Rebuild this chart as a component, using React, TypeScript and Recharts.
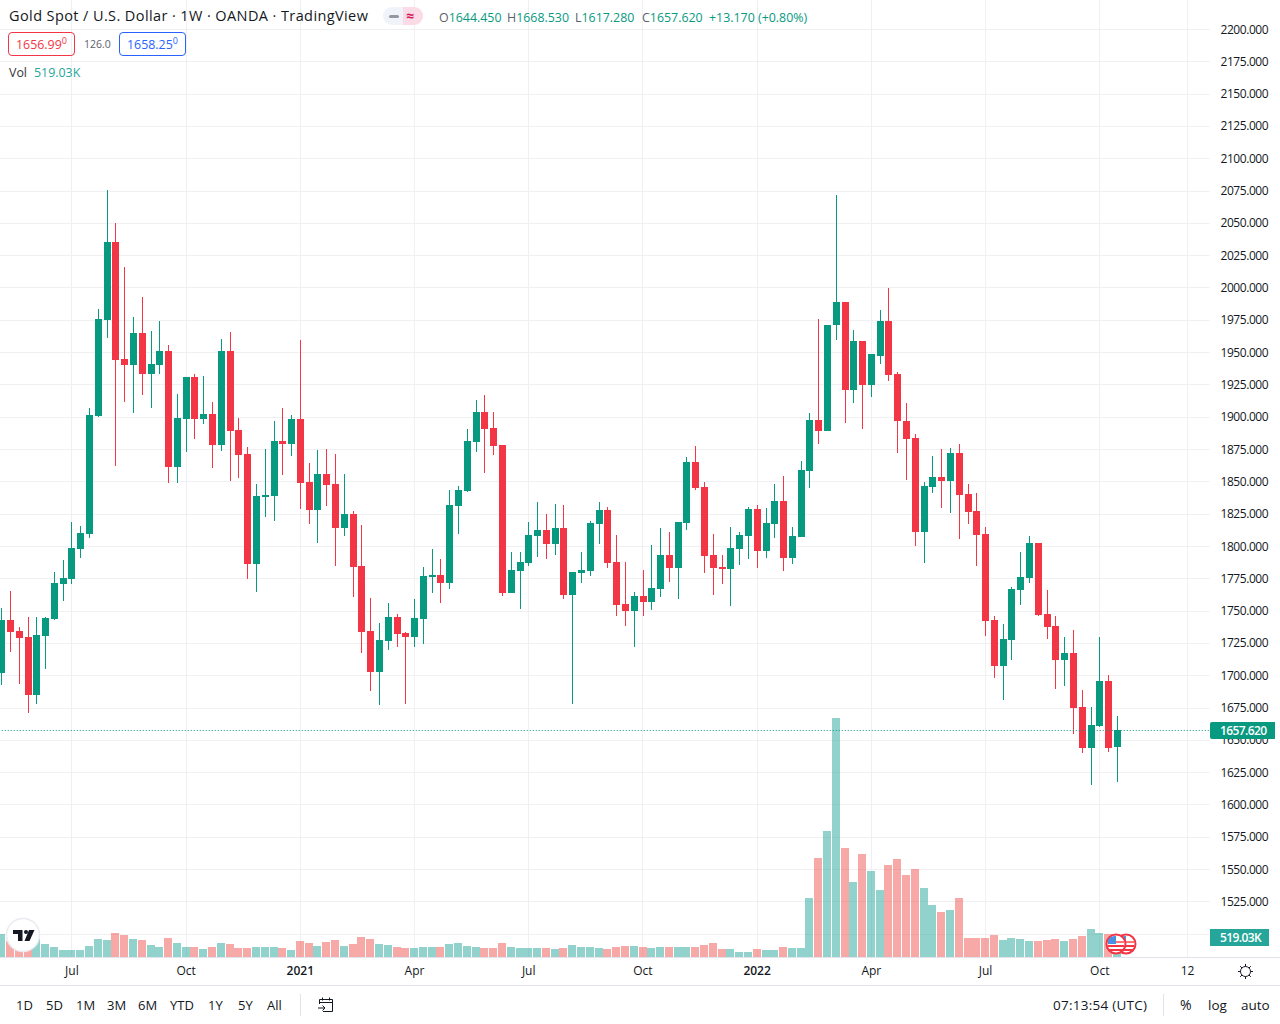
import React from 'react'
import { ComposedChart, Bar, XAxis, YAxis, CartesianGrid, ReferenceLine } from 'recharts'

const weeks = [
  '2020-05-11','2020-05-18','2020-05-25','2020-06-01','2020-06-08','2020-06-15','2020-06-22','2020-06-29','2020-07-06','2020-07-13',
  '2020-07-20','2020-07-27','2020-08-03','2020-08-10','2020-08-17','2020-08-24','2020-08-31','2020-09-07','2020-09-14','2020-09-21',
  '2020-09-28','2020-10-05','2020-10-12','2020-10-19','2020-10-26','2020-11-02','2020-11-09','2020-11-16','2020-11-23','2020-11-30',
  '2020-12-07','2020-12-14','2020-12-21','2020-12-28','2021-01-04','2021-01-11','2021-01-18','2021-01-25','2021-02-01','2021-02-08',
  '2021-02-15','2021-02-22','2021-03-01','2021-03-08','2021-03-15','2021-03-22','2021-03-29','2021-04-05','2021-04-12','2021-04-19',
  '2021-04-26','2021-05-03','2021-05-10','2021-05-17','2021-05-24','2021-05-31','2021-06-07','2021-06-14','2021-06-21','2021-06-28',
  '2021-07-05','2021-07-12','2021-07-19','2021-07-26','2021-08-02','2021-08-09','2021-08-16','2021-08-23','2021-08-30','2021-09-06',
  '2021-09-13','2021-09-20','2021-09-27','2021-10-04','2021-10-11','2021-10-18','2021-10-25','2021-11-01','2021-11-08','2021-11-15',
  '2021-11-22','2021-11-29','2021-12-06','2021-12-13','2021-12-20','2021-12-27','2022-01-03','2022-01-10','2022-01-17','2022-01-24',
  '2022-01-31','2022-02-07','2022-02-14','2022-02-21','2022-02-28','2022-03-07','2022-03-14','2022-03-21','2022-03-28','2022-04-04',
  '2022-04-11','2022-04-18','2022-04-25','2022-05-02','2022-05-09','2022-05-16','2022-05-23','2022-05-30','2022-06-06','2022-06-13',
  '2022-06-20','2022-06-27','2022-07-04','2022-07-11','2022-07-18','2022-07-25','2022-08-01','2022-08-08','2022-08-15','2022-08-22',
  '2022-08-29','2022-09-05','2022-09-12','2022-09-19','2022-09-26','2022-10-03','2022-10-10','2022-10-17','2022-10-24','2022-10-31',
  '2022-11-07','2022-11-14','2022-11-21','2022-11-28','2022-12-05','2022-12-12','2022-12-19','2022-12-26',
]

const opens = [
  1701.9,1742.7,1734,1729.4,1684.6,1730.2,1743.3,1770.5,1774.3,1797.7,1809.4,1900.7,1975.2,2035.6,1945,1940.4,
  1965.2,1933.3,1940.4,1951,1861.3,1898.5,1930.9,1898.5,1902.3,1878.4,1951,1889.8,1871.3,1786,1837.9,1838.7,
  1881.4,1879,1898.5,1849.4,1827.7,1855.6,1847.9,1813.8,1824.7,1784.4,1734,1702.3,1726.3,1744.9,1732.5,1729.4,
  1743.4,1775.9,1777.4,1771.2,1830.8,1842.4,1880.4,1903.6,1891.2,1878,1763.5,1780.5,1786.7,1807.6,1812.3,1801.4,
  1813.8,1761.9,1779,1780.5,1816.9,1827.7,1787.5,1755,1749.6,1761.2,1756.5,1766.6,1792.9,1782.8,1817.7,1864.9,
  1845.5,1792.9,1783.6,1782,1797.6,1807.6,1828.5,1796,1816.9,1834.7,1790.6,1806.8,1857.9,1897.6,1889.3,1970.9,
  1989.3,1920.5,1958.4,1924.9,1947.5,1973.9,1932.9,1897.1,1884,1811,1846,1853.7,1850.8,1872.4,1840.7,1827.4,
  1809.6,1742.8,1707.2,1727.4,1766.2,1775.4,1802.4,1747.6,1738.4,1712,1717.3,1675.5,1643.8,1660.7,1695.7,1644.45,
]
const highs = [
  1752,1765,1737.8,1744.9,1744.9,1744.9,1779.7,1789.2,1818.6,1815.6,1907,1983.6,2075.8,2050.3,2016.3,1977.4,
  1992.9,1966.8,1974.4,1955.9,1917.8,1930.9,1933.3,1931.7,1911.6,1960.5,1966,1899.1,1876.8,1848,1875.2,1896.9,
  1907,1901.5,1959.7,1864.1,1874.7,1875.5,1871.6,1855.6,1827,1816.1,1759.6,1740.3,1755.8,1747.2,1733.3,1758.9,
  1783.6,1797.6,1789.8,1843.2,1846.3,1890.4,1912.9,1916.7,1903.6,1878,1795.2,1795.2,1818.4,1833.9,1824.6,1832.4,
  1831.6,1779.8,1795.2,1819.2,1833.9,1830,1808.4,1787.5,1764.3,1781.3,1800.6,1813.8,1810.7,1818.4,1868.8,1877.3,
  1849.4,1809.2,1792.9,1814.6,1810.7,1830,1831.6,1829.3,1847.9,1854,1814.6,1865.7,1902.8,1975.4,1971.5,2071.5,
  1989.3,1967.1,1959,1948.7,1982.5,1999.4,1935,1910.4,1886.4,1849.9,1870.1,1874.8,1876.3,1879.3,1848.4,1841.3,
  1814.9,1746.1,1739.9,1768.6,1795.6,1808.1,1802.4,1766.2,1746.1,1729.8,1735.1,1688.5,1675.5,1729.8,1700.4,1668.53,
]
const lows = [
  1692.2,1717.7,1693.8,1670.4,1677.5,1704.7,1742.7,1757.4,1770.5,1790.6,1806.4,1899.9,1961.3,1862.6,1911.6,1903.2,
  1917,1907,1933.3,1848.8,1848.8,1873,1883,1894.5,1860.5,1873.5,1850.4,1852.6,1774.3,1764.2,1822.4,1819.4,
  1855,1869.7,1828.7,1816.9,1803,1831.6,1785.2,1807.7,1760.4,1717,1687.6,1676.8,1719.4,1721.7,1677.6,1721.7,
  1724,1763.5,1755.8,1766.6,1809.2,1841.7,1872.6,1856.4,1870.3,1761.2,1763.5,1751.1,1784.4,1791.4,1789.8,1792.9,
  1758.9,1677.6,1771.2,1776.6,1801.4,1782.8,1745.7,1738,1721.7,1745.7,1750.3,1760.4,1772,1758.9,1812.3,1843.2,
  1779,1761.9,1770.5,1753.4,1785.2,1789.8,1782.8,1790.6,1806,1780.5,1785.9,1806.8,1845,1878.4,1889.3,1959,
  1895.6,1911,1890.8,1915.7,1940.7,1927.3,1872.4,1850.8,1799.5,1787,1841.3,1828.8,1825.9,1805.7,1817.3,1784.6,
  1730.4,1698,1680.8,1712,1754.4,1771.6,1745.8,1728.3,1689.4,1691.8,1654.4,1639.9,1615,1659.8,1640.5,1617.28,
]
const closes = [
  1742.7,1733.5,1728.9,1684.6,1731,1744.1,1771.3,1775.1,1798.5,1810.2,1901.5,1976,2035.6,1944.2,1940.4,1965.2,
  1933.3,1941,1951,1861.3,1899.1,1930.9,1898.5,1902.3,1878.4,1951,1889,1870.5,1786,1838.7,1839.5,1881.4,
  1879,1898.5,1848.8,1827.7,1855.6,1847.1,1813.8,1824.7,1783.6,1733.3,1702.3,1727.1,1744.9,1731.8,1729.4,1744.2,
  1776.6,1777.4,1771.2,1831.6,1843.2,1881.2,1903.6,1890.4,1877.3,1763.5,1781.3,1787.5,1808.4,1812.3,1801.4,1813.8,
  1761.9,1779.8,1781.3,1817.7,1827.7,1786.7,1754.2,1749.6,1761.2,1756.5,1767.4,1792.9,1782.8,1818.4,1864.9,1844.8,
  1792.1,1782.8,1782,1798.3,1808.4,1828.5,1796,1817.7,1834.7,1790.6,1807.6,1858.7,1897.4,1889,1971.5,1989.3,
  1920.5,1958.4,1924.9,1948.4,1973.9,1932.1,1896.5,1883.1,1811,1846.6,1853.7,1850.8,1872.4,1839.8,1826.8,1808.7,
  1742.2,1707.2,1728.3,1766.8,1776.3,1802.4,1746.7,1737.5,1712,1717.3,1674.6,1643.8,1661.6,1695.7,1643.8,1657.62,
]
// thousands
const volumes = [
  598,416,364,312,468,338,260,182,182,182,286,468,442,624,572,468,442,312,260,494,364,260,260,208,260,364,338,234,234,260,260,260,
  234,182,416,364,286,390,442,286,338,520,468,338,312,260,234,234,260,260,260,338,364,286,260,234,234,364,260,234,234,234,234,208,
  234,312,260,260,234,208,260,286,286,260,234,260,260,260,260,260,312,364,208,208,130,130,208,182,182,260,234,234,1534,2574,3276,6214,
  2834,1950,2678,2236,1742,2392,2548,2132,2288,1794,1352,1170,1222,1534,494,494,494,572,442,494,468,416,416,442,468,416,468,546,728,624,598,519.03,
]

const priceTicks = [
  1500,1525,1550,1575,1600,1625,1650,1675,1700,1725,1750,1775,1800,1825,1850,1875,1900,1925,1950,1975,
  2000,2025,2050,2075,2100,2125,2150,2175,2200,
]
const dateTicks = ['2020-07-06','2020-10-05','2021-01-04','2021-04-05','2021-07-05','2021-10-04','2022-01-03','2022-04-04','2022-07-04','2022-10-03','2022-12-12']
const dateTickLabels = ['Jul','Oct','2021','Apr','Jul','Oct','2022','Apr','Jul','Oct','12']
const rangeButtons = [['1D',16],['5D',46],['1M',76],['3M',107],['6M',138],['YTD',170],['1Y',208],['5Y',238],['All',267]] as const

const UP = '#089981'
const DOWN = '#f23645'
const GRID = '#f0f0f2'
const FONT = '"Open Sans", "Noto Sans", sans-serif'

const rows = weeks.map((date, i) => ({
  date,
  open: opens[i] ?? null,
  high: highs[i] ?? null,
  low: lows[i] ?? null,
  close: closes[i] ?? null,
  volume: volumes[i] ?? null,
}))

function Candle(props: any) {
  const { x, y, width, height, payload } = props
  if (!payload || payload.high == null || !Number.isFinite(y)) return null
  const { open, high, low, close } = payload
  const up = close >= open
  const unit = height / (high - low)
  const cx = Math.floor(x + width / 2)
  const top = Math.round(y - 0.3 + (high - Math.max(open, close)) * unit)
  const bottom = Math.round(y - 0.3 + (high - Math.min(open, close)) * unit)
  const color = up ? UP : DOWN
  return (
    <g>
      <rect x={cx} y={Math.round(y - 0.3)} width={1} height={Math.max(1, Math.round(height))} fill={color} />
      <rect x={cx - 3} y={top} width={7} height={Math.max(2, bottom - top)} fill={color} />
    </g>
  )
}

function VolumeBar(props: any) {
  const { x, y, width, height, payload } = props
  if (!payload || payload.volume == null || !Number.isFinite(y)) return null
  const up = payload.close >= payload.open
  const left = Math.round(x)
  const right = Math.round(x + width)
  return (
    <rect
      x={left}
      y={Math.round(y)}
      width={right - left}
      height={Math.round(height)}
      fill={up ? '#26a69a' : '#ef5350'}
      fillOpacity={0.5}
    />
  )
}

function DateTick(props: any) {
  const { x, y, payload } = props
  const label = dateTickLabels[dateTicks.indexOf(payload.value)]
  const bold = label.startsWith('20')
  return (
    <text x={x} y={y + 5.5} textAnchor="middle" dominantBaseline="central" fontSize={12} fontFamily={FONT} fontWeight={bold ? 600 : 400} fill="#131722">
      {label}
    </text>
  )
}

function PriceTick(props: any) {
  const { x, y, payload } = props
  // the volume label covers this level, only its grid line shows
  if (payload.value === 1500) return null
  return (
    <text x={x} y={Math.round(y - 0.95) + 5} textAnchor="start" fontSize={12} letterSpacing={-0.45} fontFamily={FONT} fill="#131722">
      {payload.value.toFixed(3)}
    </text>
  )
}

// grid lines snapped to whole pixels
const gridH = (p: any) => {
  const y = Math.floor(p.y1) + 0.5
  return <line key={p.key} x1={p.x1} x2={p.x2} y1={y} y2={y} stroke={GRID} />
}
const gridV = (p: any) => {
  const x = Math.floor(p.x1) + 0.5
  return <line key={p.key} x1={x} x2={x} y1={p.y1} y2={p.y2} stroke={GRID} />
}

const txt = (left: number, top: number, extra: React.CSSProperties = {}): React.CSSProperties => ({
  position: 'absolute', left, top, whiteSpace: 'nowrap', fontFamily: FONT, color: '#131722', lineHeight: '18px', ...extra,
})
const hline = (top: number): React.CSSProperties => ({ position: 'absolute', left: 0, top, width: 1280, height: 1, background: '#e0e3eb' })

function Flag({ left }: { left: number }) {
  return (
    <svg style={{ position: 'absolute', left, top: 933 }} width={22} height={22} viewBox="0 0 22 22">
      <circle cx={11} cy={11} r={9.5} fill="#fff" stroke="#f23645" strokeWidth={2} />
      <rect x={3} y={8} width={16} height={2} fill="#f77" />
      <rect x={3} y={12} width={16} height={2} fill="#f23645" />
      <rect x={4} y={16} width={14} height={2} fill="#f23645" />
      <path d="M3 10 V7 A8.5 8.5 0 0 1 11 3 V11 H3 Z" fill="#4a90e2" />
    </svg>
  )
}

export default function App() {
  return (
    <div style={{ position: 'absolute', left: 0, top: 0, width: 1280, height: 1024, overflow: 'hidden', background: '#fff' }}>
      <div style={{ position: 'absolute', left: -30, top: 0 }}>
        <ComposedChart width={1310} height={985} data={rows} margin={{ top: 0, right: 0, left: 27.21, bottom: 0 }}>
          <CartesianGrid xAxisId="price" yAxisId="price" syncWithTicks horizontal={gridH} vertical={gridV} />
          <XAxis xAxisId="vol" dataKey="date" scale="band" hide />
          <XAxis
            xAxisId="price"
            dataKey="date"
            scale="band"
            ticks={dateTicks}
            interval={0}
            height={28}
            axisLine={false}
            tickLine={false}
            tick={<DateTick />}
          />
          <YAxis yAxisId="vol" orientation="left" hide domain={[0, 24882]} allowDataOverflow />
          <YAxis
            yAxisId="price"
            orientation="right"
            width={70.46}
            domain={[1482.35, 2222.82]}
            allowDataOverflow
            ticks={priceTicks}
            interval={0}
            axisLine={false}
            tickLine={false}
            tickSize={0}
            tickMargin={11}
            tick={<PriceTick />}
          />
          <Bar xAxisId="vol" yAxisId="vol" dataKey="volume" barSize={8} shape={<VolumeBar />} isAnimationActive={false} />
          <Bar
            xAxisId="price"
            yAxisId="price"
            dataKey={(d: any) => (d.high == null ? null : [d.low, d.high])}
            barSize={7}
            shape={<Candle />}
            isAnimationActive={false}
          />
          <ReferenceLine xAxisId="price" yAxisId="price" y={1657.62} stroke={UP} strokeDasharray="1 2" strokeDashoffset={2.21} />
        </ComposedChart>
      </div>

      <div style={hline(957)} />
      <div style={hline(985)} />

      {/* header */}
      <div style={txt(9, 7, { fontSize: 14.5, letterSpacing: 0.4 })}>Gold Spot / U.S. Dollar · 1W · OANDA · TradingView</div>
      <div style={{ position: 'absolute', left: 383, top: 7, width: 40, height: 18, borderRadius: 9, background: '#f0f3fa', overflow: 'hidden' }}>
        <div style={{ position: 'absolute', left: 20, top: 0, width: 20, height: 18, background: '#fbdbe6' }} />
        <div style={{ position: 'absolute', left: 6, top: 8, width: 10, height: 3, borderRadius: 2, background: '#9598a1' }} />
        <div style={txt(23, 0, { fontSize: 14, color: '#d81b60', fontWeight: 700 })}>≈</div>
      </div>
      <div style={txt(439, 9, { fontSize: 12.4, color: UP })}><span style={{ color: '#5d606b' }}>O</span>1644.450</div>
      <div style={txt(507, 9, { fontSize: 12.4, color: UP })}><span style={{ color: '#5d606b' }}>H</span>1668.530</div>
      <div style={txt(575, 9, { fontSize: 12.4, color: UP })}><span style={{ color: '#5d606b' }}>L</span>1617.280</div>
      <div style={txt(642, 9, { fontSize: 12.4, color: UP })}><span style={{ color: '#5d606b' }}>C</span>1657.620</div>
      <div style={txt(709, 9, { fontSize: 12.4, color: UP })}>+13.170 (+0.80%)</div>

      <div style={{ position: 'absolute', left: 8, top: 32, width: 65, height: 22, border: '1px solid #f23645', borderRadius: 4 }} />
      <div style={txt(16, 36, { fontSize: 12.4, color: '#f23645' })}>1656.99<sup style={{ fontSize: 9, lineHeight: 0 }}>0</sup></div>
      <div style={txt(84, 35, { fontSize: 10.5, color: '#5d606b' })}>126.0</div>
      <div style={{ position: 'absolute', left: 119, top: 32, width: 65, height: 22, border: '1px solid #2962ff', borderRadius: 4 }} />
      <div style={txt(127, 36, { fontSize: 12.4, color: '#2962ff' })}>1658.25<sup style={{ fontSize: 9, lineHeight: 0 }}>0</sup></div>
      <div style={txt(9, 64, { fontSize: 12.4, color: '#333' })}>Vol</div>
      <div style={txt(34, 64, { fontSize: 12.4, color: '#26a69a' })}>519.03K</div>

      {/* price scale labels */}
      <div style={{ position: 'absolute', left: 1210, top: 722, width: 65, height: 17, background: UP, borderRadius: '2px 0 0 2px' }} />
      <div style={txt(1220, 722, { fontSize: 12, color: '#fff', fontWeight: 600, letterSpacing: -0.6 })}>1657.620</div>
      <div style={{ position: 'absolute', left: 1210, top: 929, width: 59, height: 17, background: '#26a69a' }} />
      <div style={txt(1220, 929, { fontSize: 12, color: '#fff', fontWeight: 600, letterSpacing: -0.6 })}>519.03K</div>

      {/* logo and event flags */}
      <svg style={{ position: 'absolute', left: 5, top: 917 }} width={36} height={36} viewBox="0 0 36 36">
        <circle cx={18} cy={18} r={16.5} fill="#fff" stroke="#e9ebf0" strokeWidth={1.5} />
        <path d="M8 13 H17.5 V24 H13 V17 H8 Z" fill="#131722" />
        <circle cx={21} cy={15} r={2} fill="#131722" />
        <path d="M24 13 H29.5 L24.5 24 H19.5 Z" fill="#131722" />
      </svg>
      <Flag left={1115} />
      <Flag left={1105} />

      {/* bottom toolbar */}
      {rangeButtons.map(([label, left]) => (
        <div key={label} style={txt(left, 996, { fontSize: 13 })}>{label}</div>
      ))}
      <div style={{ position: 'absolute', left: 300, top: 994, width: 1, height: 22, background: '#e0e3eb' }} />
      <svg style={{ position: 'absolute', left: 317, top: 996 }} width={18} height={18} viewBox="0 0 18 18" fill="none" stroke="#131722" strokeWidth={1}>
        <path d="M2.5 8 V3.5 H15.5 V15.5 H6 M2.5 6.5 H15.5 M5.5 1.5 V4.5 M12.5 1.5 V4.5 M1 12 H8 M5.5 9.5 L8 12 L5.5 14.5" />
      </svg>
      <div style={txt(1053, 996, { fontSize: 13.5, letterSpacing: 0.25 })}>07:13:54 (UTC)</div>
      <div style={{ position: 'absolute', left: 1163, top: 994, width: 1, height: 22, background: '#e0e3eb' }} />
      <div style={txt(1180, 996, { fontSize: 14 })}>%</div>
      <div style={txt(1208, 996, { fontSize: 13.5 })}>log</div>
      <div style={txt(1241, 996, { fontSize: 13.5 })}>auto</div>
      <svg style={{ position: 'absolute', left: 1237, top: 963 }} width={17} height={17} viewBox="0 0 17 17" fill="none" stroke="#131722" strokeWidth={1}>
        <circle cx={8.5} cy={8.5} r={5} />
        <path d="M8.5 1 V3.5 M8.5 13.5 V16 M1 8.5 H3.5 M13.5 8.5 H16 M3.2 3.2 L5 5 M12 12 L13.8 13.8 M3.2 13.8 L5 12 M12 5 L13.8 3.2" />
      </svg>
    </div>
  )
}
